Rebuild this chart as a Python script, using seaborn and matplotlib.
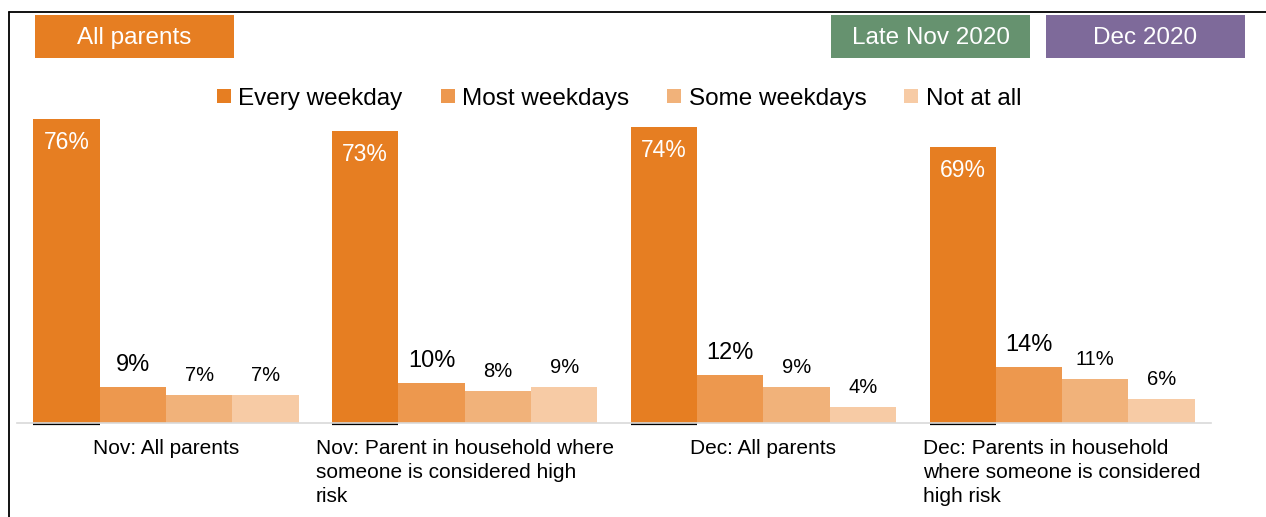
import textwrap
import matplotlib
matplotlib.use("Agg")
import matplotlib.pyplot as plt
from matplotlib.lines import Line2D
from matplotlib.patches import Rectangle
import seaborn as sns
import pandas as pd

# ---- data ----
groups = [
    "Nov: All parents",
    "Nov: Parent in household where someone is considered high risk",
    "Dec: All parents",
    "Dec: Parents in household where someone is considered high risk",
]
series = ["Every weekday", "Most weekdays", "Some weekdays", "Not at all"]
every_weekday = [76, 73, 74, 69]
most_weekdays = [9, 10, 12, 14]
some_weekdays = [7, 8, 9, 11]
not_at_all = [7, 9, 4, 6]
header_left = "All parents"
header_right = ["Late Nov 2020", "Dec 2020"]

colors = ["#E67E22", "#ED984E", "#F1B27A", "#F7CBA5"]
box_colors = ["#E67E22", "#66926F", "#7E6A9A"]

values = [every_weekday, most_weekdays, some_weekdays, not_at_all]
rows = []
for s, vals in zip(series, values):
    for g, v in zip(groups, vals):
        rows.append({"group": g, "freq": s, "value": v})
df = pd.DataFrame(rows)

sns.set_theme(style="white")
plt.rcParams["font.family"] = ["Liberation Sans", "DejaVu Sans"]
plt.rcParams["text.color"] = "black"

W, H = 1266, 517
fig = plt.figure(figsize=(W / 100, H / 100), dpi=100)
ax = fig.add_axes([16.65 / W, (H - 422.5) / H, (1211.5 - 16.65) / W, (422.5 - 103.3) / H])

sns.barplot(data=df, x="group", y="value", hue="freq", order=groups, hue_order=series,
            palette=colors, width=0.888, saturation=1, legend=False, ax=ax, linewidth=0)

ax.set_xlim(-0.5, 3.5)
ax.set_ylim(0, 80)
ax.set_yticks([])
ax.set_ylabel("")
ax.set_xlabel("")
for sp in ["top", "right", "left"]:
    ax.spines[sp].set_visible(False)
ax.spines["bottom"].set_color("#D9D9D9")
ax.spines["bottom"].set_linewidth(1.2)
ax.tick_params(axis="x", length=0, pad=12)
ax.set_xticks(range(len(groups)))
ax.set_xticklabels([textwrap.fill(g, 30) for g in groups], fontsize=15,
                   color="black", va="top", linespacing=1.32)
for t in ax.get_xticklabels():
    t.set_multialignment("left")

# value labels
for i, cont in enumerate(ax.containers):
    for bar in cont:
        h = bar.get_height()
        cx = bar.get_x() + bar.get_width() / 2
        if i == 0:
            ax.annotate(f"{h:.0f}%", (cx, h), xytext=(0, -23), textcoords="offset pixels",
                        ha="center", va="center", color="white", fontsize=16.5)
            ax.plot([bar.get_x(), bar.get_x() + bar.get_width()], [-0.3, -0.3],
                    color="black", lw=1.6, clip_on=False, solid_capstyle="butt")
        else:
            fs = 17 if i == 1 else 14.5
            off = 22 if i == 1 else 19
            ax.annotate(f"{h:.0f}%", (cx, h), xytext=(0, off), textcoords="offset pixels",
                        ha="center", va="center", color="black", fontsize=fs)

# legend
handles = [Line2D([0], [0], marker="s", linestyle="", markersize=9.5,
                  markerfacecolor=c, markeredgewidth=0) for c in colors]
leg = fig.legend(handles, series, loc="center", bbox_to_anchor=(619 / W, 1 - 99 / H), ncol=4,
                 frameon=False, fontsize=17.5, handlelength=0.6, handletextpad=0.3,
                 columnspacing=1.55, borderaxespad=0)
for t in leg.get_texts():
    t.set_color("black")

# header boxes
def box(x0, x1, y0, y1, color, text):
    fig.patches.append(Rectangle((x0 / W, 1 - y1 / H), (x1 - x0) / W, (y1 - y0) / H,
                                 transform=fig.transFigure, facecolor=color, edgecolor="none"))
    fig.text((x0 + x1) / 2 / W, 1 - ((y0 + y1) / 2 + 1.5) / H, text, ha="center", va="center",
             color="white", fontsize=17.5)

box(35, 233.7, 15, 57.7, box_colors[0], header_left)
box(831, 1030, 15, 57.7, box_colors[1], header_right[0])
box(1046, 1245, 15, 57.7, box_colors[2], header_right[1])

# outer frame lines (top and left)
fig.add_artist(Line2D([9.3 / W, 1], [1 - 11.8 / H, 1 - 11.8 / H], transform=fig.transFigure,
                      color="black", lw=1.3))
fig.add_artist(Line2D([9.3 / W, 9.3 / W], [0, 1 - 11.8 / H], transform=fig.transFigure,
                      color="black", lw=1.3))

fig.savefig("out.png", dpi=100)
